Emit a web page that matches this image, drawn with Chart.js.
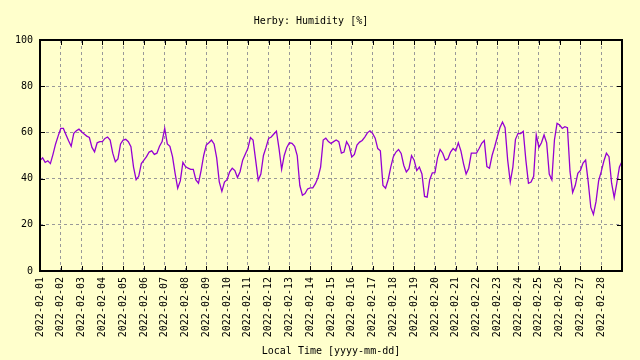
<!DOCTYPE html>
<html>
<head>
<meta charset="utf-8">
<script src="https://cdn.jsdelivr.net/npm/chart.js@4/dist/chart.umd.min.js"></script>
<style>
    html, body { margin: 0; padding: 0; background: #ffffcc; }
    canvas { display: block; }
</style>
</head>
<body>
<canvas id="humidityChart" width="640" height="360"></canvas>
<script>
// one label per day, first reading of each day sits on its gridline
const dayLabels = [
    "2022-02-01", "2022-02-02", "2022-02-03", "2022-02-04", "2022-02-05", "2022-02-06", "2022-02-07",
    "2022-02-08", "2022-02-09", "2022-02-10", "2022-02-11", "2022-02-12", "2022-02-13", "2022-02-14",
    "2022-02-15", "2022-02-16", "2022-02-17", "2022-02-18", "2022-02-19", "2022-02-20", "2022-02-21",
    "2022-02-22", "2022-02-23", "2022-02-24", "2022-02-25", "2022-02-26", "2022-02-27", "2022-02-28"
];
const hoursPerDay = 24;
const stepHours = 3;

// humidity [%], one reading every 3 hours from 2022-02-01 00:00
const humidity = [
    47.8, 49, 47, 47.7, 46.5, 50.5, 55, 58.5,
    61.7, 61.7, 59, 56.4, 54, 59.6, 60.7, 61.4,
    60.3, 59.3, 58.4, 57.8, 53.5, 51.6, 55.5, 56,
    56, 57.4, 58, 56.7, 51, 47.3, 48.5, 55,
    56.7, 57, 56, 53.8, 45, 39.5, 41, 46.5,
    48, 49.5, 51.5, 52, 50.5, 51, 54, 56,
    61.7, 55, 54, 49.5, 42.3, 35.8, 39, 47,
    45.2, 44.5, 44, 44, 39.4, 38, 43.5, 50,
    54.5, 55.5, 56.7, 55, 49, 38.6, 34.5, 38.5,
    39.5, 42.9, 44.5, 43.5, 40.5, 43, 48, 50.5,
    53, 57.8, 56.7, 48, 39.3, 42, 50, 53.5,
    57.4, 58, 59.3, 60.5, 53, 44, 50, 53.5,
    55.5, 55.3, 54, 50, 37, 32.8, 33.5, 35.5,
    36, 36, 37.8, 40.5, 45, 56.7, 57.5, 56,
    55.2, 56, 56.7, 56, 51, 51.5, 56, 54,
    49.4, 50.5, 54.5, 55.8, 56.5, 58, 59.8, 60.7,
    59.6, 57.5, 53, 52, 37, 35.8, 39.5, 45,
    49.5, 51.5, 52.6, 50.9, 45.8, 42.9, 44.3, 50,
    48, 43.5, 45, 42, 32.3, 32, 39.5, 42.5,
    42.6, 49, 52.6, 51, 48, 48.5, 51.5, 53,
    52, 55.5, 52, 46.5, 42, 44.5, 51, 51,
    51, 53, 55.3, 56.5, 45.2, 44.5, 50, 53.8,
    58, 62, 64.5, 62, 48, 38.5, 45, 57,
    59.6, 59.5, 60.5, 48, 38, 38.5, 41, 58.9,
    53.5, 55.5, 58.9, 55.5, 42, 39.5, 56.7, 63.9,
    63.2, 61.7, 62.5, 62, 43, 34, 37, 42.3,
    43.5, 46.7, 48, 38.5, 27.5, 24.5, 30, 39,
    43, 47.5, 51, 49.5, 38, 31.8, 38, 45,
    47.4
];

const yMin = 0;
const yMax = 100;
const yStep = 20;

const points = humidity.map(function (value, i) {
    return { x: i * stepHours, y: value };
});

// black frame plus short inward tick marks, like the original plot
const framePlugin = {
    id: "frame",
    afterDatasetsDraw(chart) {
        const ctx = chart.ctx;
        const area = chart.chartArea;
        const xs = chart.scales.x;
        const ys = chart.scales.y;

        ctx.save();
        ctx.strokeStyle = "#000";
        ctx.lineWidth = 1;
        ctx.beginPath();
        xs.ticks.forEach(function (t) {
            const px = Math.round(xs.getPixelForValue(t.value)) + 0.5;
            ctx.moveTo(px, area.bottom);
            ctx.lineTo(px, area.bottom - 5);
            ctx.moveTo(px, area.top);
            ctx.lineTo(px, area.top + 5);
        });
        ys.ticks.forEach(function (t) {
            const py = Math.round(ys.getPixelForValue(t.value)) + 0.5;
            ctx.moveTo(area.left, py);
            ctx.lineTo(area.left + 5, py);
            ctx.moveTo(area.right, py);
            ctx.lineTo(area.right - 5, py);
        });
        ctx.stroke();

        ctx.lineWidth = 2;
        ctx.strokeRect(area.left, area.top, area.right - area.left, area.bottom - area.top);
        ctx.restore();
    }
};

Chart.defaults.font.family = "'DejaVu Sans Mono', monospace";
Chart.defaults.font.size = 10;
Chart.defaults.color = "#000";

new Chart(document.getElementById("humidityChart"), {
    type: "line",
    data: {
        datasets: [{
            data: points,
            borderColor: "#9400d3",
            borderWidth: 1.3,
            pointRadius: 0,
            tension: 0,
            fill: false
        }]
    },
    options: {
        responsive: false,
        animation: false,
        devicePixelRatio: 1,
        layout: { padding: { left: 0, right: 18, top: 0, bottom: 0 } },
        plugins: {
            legend: { display: false },
            tooltip: { enabled: false },
            title: {
                display: true,
                text: "Herby: Humidity [%]",
                font: { size: 10, weight: "normal" },
                color: "#000",
                padding: { top: 15, bottom: 13 }
            }
        },
        scales: {
            x: {
                type: "linear",
                min: 0,
                max: dayLabels.length * hoursPerDay,
                afterFit: function (scale) { scale.height = 89; },
                grid: { color: "#999999", lineWidth: 1, drawTicks: false },
                border: { display: false, dash: [3, 3] },
                ticks: {
                    stepSize: hoursPerDay,
                    autoSkip: false,
                    maxRotation: 90,
                    minRotation: 90,
                    padding: 6,
                    callback: function (value) {
                        return dayLabels[value / hoursPerDay] || "";
                    }
                },
                title: {
                    display: true,
                    text: "Local Time [yyyy-mm-dd]",
                    padding: { top: 0, bottom: 3 }
                }
            },
            y: {
                min: yMin,
                max: yMax,
                afterFit: function (scale) { scale.width = 40; },
                grid: { color: "#999999", lineWidth: 1, drawTicks: false },
                border: { display: false, dash: [3, 3] },
                ticks: { stepSize: yStep, padding: 7 }
            }
        }
    },
    plugins: [framePlugin]
});
</script>
</body>
</html>
